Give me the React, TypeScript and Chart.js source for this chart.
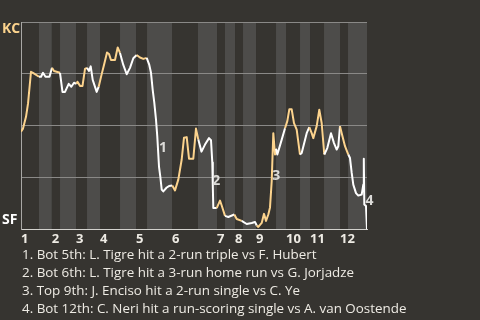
import React, { useEffect, useRef } from "react";
import { Chart, registerables } from "chart.js";

Chart.register(...registerables);

// Half-inning boundaries on the game-progress axis (Top 1, Bot 1, Top 2, ...)
const halfInningBounds = [
  0, 6.66, 11.36, 14.43, 20.35, 24.42, 29.23, 36.63, 42.55, 46.62, 55.86, 65.48,
  72.51, 75.47, 79.17, 82.13, 86.94, 94.34, 98.04, 103.22, 106.92, 112.1, 118.02,
  120.98, 128,
];
const inningLabels = ["1", "2", "3", "4", "5", "6", "7", "8", "9", "10", "11", "12"];

// Game progress (x) and KC win probability (y)
const progress = [
  0, 0.74, 1.85, 2.59, 3.7, 4.44, 6.66, 7.4, 8.14, 9.06, 10.54, 11.47, 12.21, 14.43,
  15.35, 16.28, 17.65, 18.61, 19.61, 20.53, 20.9, 21.83, 22.75, 23.68, 24.42, 25.16,
  25.79, 26.53, 28.0, 28.74, 29.78, 30.7, 31.82, 32.55, 33.29, 34.77, 35.77, 36.62,
  37.85, 39.1, 40.32, 41.55, 42.8, 44.02, 45.25, 46.5, 47.46, 48.09, 48.72, 49.31,
  49.94, 50.42, 51.05, 51.53, 52.05, 52.64, 53.9, 54.75, 55.97, 56.97, 58.19, 59.45,
  60.3, 61.3, 62.15, 63.74, 64.74, 65.59, 66.77, 68.07, 69.55, 70.29, 70.77, 70.96,
  71.14, 72.4, 73.62, 74.25, 75.47, 76.69, 78.91, 79.8, 81.65, 83.5, 85.35, 86.57,
  87.2, 87.79, 89.05, 89.9, 90.64, 91.49, 92.12, 92.74, 93.34, 93.97, 94.34, 94.82,
  96.45, 97.67, 98.52, 99.26, 100.14, 100.99, 101.99, 103.21, 103.84, 105.69, 106.65,
  107.54, 108.14, 109.39, 110.35, 111.24, 112.2, 113.31, 114.68, 115.79, 116.79,
  117.38, 118.01, 118.64, 119.86, 121.08, 121.71, 122.34, 122.93, 123.93, 124.78,
  126.04, 126.63, 126.82, 127.0, 127.63, 128,
];
const kcWinProb = [
  0.471, 0.486, 0.543, 0.606, 0.76, 0.755, 0.736, 0.736, 0.755, 0.736, 0.736, 0.779,
  0.764, 0.755, 0.663, 0.663, 0.702, 0.688, 0.707, 0.702, 0.712, 0.692, 0.692, 0.774,
  0.779, 0.764, 0.786, 0.721, 0.663, 0.688, 0.745, 0.793, 0.853, 0.846, 0.817, 0.817,
  0.877, 0.851, 0.793, 0.748, 0.779, 0.825, 0.841, 0.829, 0.822, 0.827, 0.793, 0.755,
  0.673, 0.611, 0.529, 0.447, 0.303, 0.255, 0.192, 0.183, 0.202, 0.209, 0.212, 0.188,
  0.24, 0.337, 0.442, 0.445, 0.341, 0.341, 0.486, 0.433, 0.375, 0.409, 0.44, 0.43,
  0.322, 0.207, 0.103, 0.103, 0.139, 0.115, 0.065, 0.06, 0.072, 0.05, 0.041, 0.026,
  0.031, 0.036, 0.019, 0.012, 0.031, 0.075, 0.041, 0.072, 0.106, 0.231, 0.464, 0.361,
  0.389, 0.361, 0.433, 0.488, 0.522, 0.579, 0.579, 0.512, 0.481, 0.361, 0.368, 0.464,
  0.493, 0.464, 0.44, 0.498, 0.577, 0.512, 0.361, 0.392, 0.464, 0.416, 0.385, 0.401,
  0.498, 0.464, 0.401, 0.361, 0.344, 0.272, 0.216, 0.175, 0.163, 0.168, 0.216, 0.341,
  0.12, 0.113, 0,
];

// Key events
const eventNumbers = ["1", "2", "3", "4"];
const eventProgress = [50.7, 70.4, 92.6, 127.1];
const eventWinProb = [0.394, 0.231, 0.255, 0.136];
const eventNotes = [
  "1. Bot 5th: L. Tigre hit a 2-run triple vs F. Hubert",
  "2. Bot 6th: L. Tigre hit a 3-run home run vs G. Jorjadze",
  "3. Top 9th: J. Enciso hit a 2-run single vs C. Ye",
  "4. Bot 12th: C. Neri hit a run-scoring single vs A. van Oostende",
];
const teamTop = "KC";
const teamBottom = "SF";

const BG = "#363430";
const BAND = "#4d4c4a";
const GRID = "#8a8987";
const AXIS_Y = "#a9a8a5";
const AXIS_X = "#d2d1cd";
const KC_COLOR = "#fcd38d";
const SF_COLOR = "#ffffff";
const TEXT = "#eeebe4";
const FONT = "'Open Sans', 'Noto Sans', sans-serif";

function halfIndex(x: number) {
  for (let i = 0; i < halfInningBounds.length - 1; i++) {
    if (x >= halfInningBounds[i] && x < halfInningBounds[i + 1]) return i;
  }
  return halfInningBounds.length - 2;
}

const bandsPlugin = {
  id: "bands",
  beforeDraw(chart: any) {
    const { ctx, chartArea, scales } = chart;
    ctx.save();
    ctx.fillStyle = BG;
    ctx.fillRect(0, 0, chart.width, chart.height);
    ctx.fillStyle = BAND;
    for (let i = 1; i < halfInningBounds.length - 1; i += 2) {
      const x0 = scales.x.getPixelForValue(halfInningBounds[i]);
      const x1 = scales.x.getPixelForValue(halfInningBounds[i + 1]);
      ctx.fillRect(x0, chartArea.top, x1 - x0, chartArea.bottom - chartArea.top);
    }
    ctx.restore();
  },
  afterDraw(chart: any) {
    const { ctx, scales } = chart;
    ctx.save();
    ctx.textBaseline = "middle";
    ctx.textAlign = "left";
    ctx.font = `bold 14px ${FONT}`;
    ctx.fillStyle = KC_COLOR;
    ctx.fillText(teamTop, 2, scales.y.getPixelForValue(1) + 7);
    ctx.fillStyle = SF_COLOR;
    ctx.fillText(teamBottom, 2, scales.y.getPixelForValue(0) - 9);
    ctx.font = `bold 14px ${FONT}`;
    ctx.fillStyle = "#dcdbd8";
    eventNumbers.forEach((t, i) => {
      ctx.fillText(
        t,
        scales.x.getPixelForValue(eventProgress[i]) + 1,
        scales.y.getPixelForValue(eventWinProb[i])
      );
    });
    ctx.restore();
  },
};

export default function App() {
  const ref = useRef<HTMLCanvasElement | null>(null);
  useEffect(() => {
    if (!ref.current) return;
    const inningStarts = halfInningBounds.filter((_, i) => i % 2 === 0 && i < halfInningBounds.length - 1);
    const chart = new Chart(ref.current, {
      type: "line",
      data: {
        datasets: [
          {
            data: progress.map((x, i) => ({ x, y: kcWinProb[i] })),
            borderWidth: 2,
            pointRadius: 0,
            tension: 0,
            borderJoinStyle: "round",
            borderColor: SF_COLOR,
            segment: {
              borderColor: (c: any) => {
                const mid = (c.p0.parsed.x + c.p1.parsed.x) / 2;
                return halfIndex(mid) % 2 === 0 ? KC_COLOR : SF_COLOR;
              },
            },
          },
        ],
      },
      options: {
        animation: false,
        responsive: false,
        maintainAspectRatio: false,
        layout: { padding: { left: 21, top: 22, right: 113, bottom: 71 } },
        plugins: { legend: { display: false }, tooltip: { enabled: false } },
        scales: {
          x: {
            type: "linear",
            min: 0,
            max: 128,
            afterBuildTicks: (axis: any) => {
              axis.ticks = inningStarts.map((v) => ({ value: v }));
            },
            ticks: {
              align: "start",
              padding: 2,
              color: TEXT,
              font: { family: FONT, size: 13, weight: "bold" },
              maxRotation: 0,
              autoSkip: false,
              callback: (_v: any, i: number) => inningLabels[i],
            },
            grid: { display: false, drawTicks: false },
            border: { display: true, color: AXIS_X, width: 1 },
          },
          y: {
            min: 0,
            max: 1,
            ticks: { display: false, stepSize: 0.25 },
            grid: { color: GRID, drawTicks: false, lineWidth: 1 },
            border: { display: true, color: AXIS_Y, width: 1 },
          },
        },
      },
      plugins: [bandsPlugin],
    });
    return () => chart.destroy();
  }, []);

  return (
    <div style={{ position: "fixed", left: 0, top: 0, width: 480, height: 320, background: BG, overflow: "hidden" }}>
      <canvas ref={ref} width={480} height={320} style={{ display: "block", width: 480, height: 320 }} />
      <div
        style={{
          position: "absolute",
          left: 22,
          top: 245,
          fontFamily: FONT,
          fontSize: 13.4,
          lineHeight: "18px",
          color: TEXT,
          whiteSpace: "nowrap",
        }}
      >
        {eventNotes.map((n) => (
          <div key={n}>{n}</div>
        ))}
      </div>
    </div>
  );
}
